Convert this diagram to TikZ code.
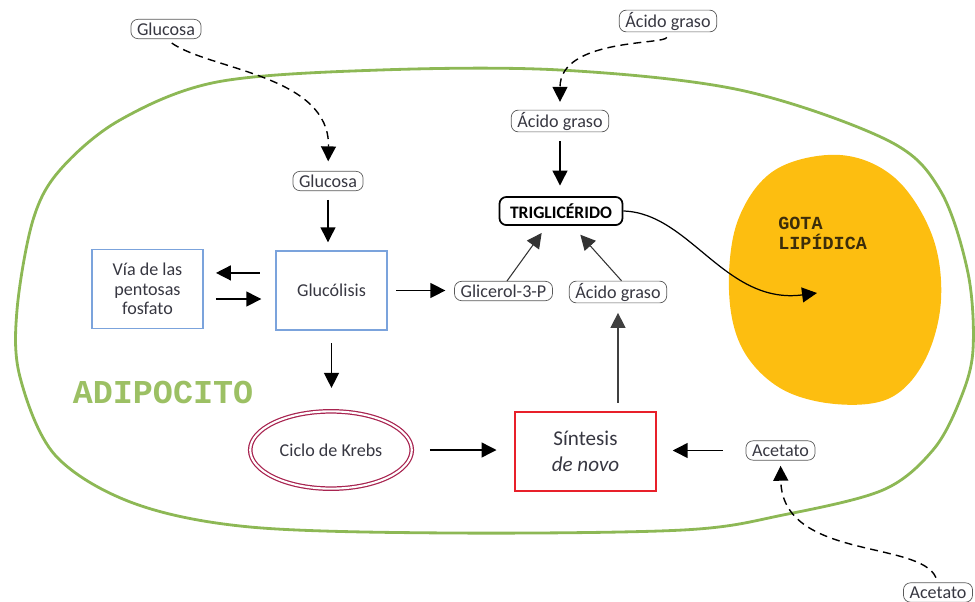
\documentclass[tikz,border=0pt]{standalone}
\usepackage{fontspec}
\setmainfont{Carlito}
\newfontfamily\courierfont{Liberation Mono}
\usetikzlibrary{arrows.meta,shapes.geometric,calc}
\definecolor{cellgreen}{RGB}{141,184,85}
\definecolor{adipogreen}{RGB}{156,192,100}
\definecolor{gotaorange}{RGB}{253,190,16}
\definecolor{gotatext}{RGB}{60,45,10}
\definecolor{pathblue}{RGB}{123,163,220}
\definecolor{krebsred}{RGB}{168,36,80}
\definecolor{sintred}{RGB}{232,32,42}
\definecolor{txtgray}{RGB}{55,55,65}
\begin{document}
\begin{tikzpicture}[x=0.02cm,y=-0.02cm,
    font=\fontsize{10.3}{11}\selectfont,
    arr/.style={line width=0.8pt,-{Triangle[length=8.5pt,width=8.5pt]}},
    dasharr/.style={arr,dash pattern=on 4.5pt off 3pt},
    molecule/.style={draw=black!65,rounded corners=4pt,inner xsep=3.5pt,inner ysep=1pt,minimum height=11pt,text=txtgray},
    pathway/.style={draw=pathblue,line width=0.9pt,minimum width=63pt,minimum height=45pt,align=center,text=txtgray}]
    \useasboundingbox (0,0) rectangle (975,602);
    % membrana y gota lipidica
    \draw[cellgreen,line width=1.6pt] plot[smooth cycle,tension=0.55] coordinates {(217,82) (380,70) (560,70) (740,90) (887,140) (940,190) (968,273) (973,350) (960,400) (933,450) (883,490) (783,515) (683,530) (450,533) (250,527) (133,503) (55,455) (20,377) (17,310) (33,220) (60,170) (120,120)};
    \fill[gotaorange] plot[smooth cycle,tension=0.6] coordinates {(840,155) (895,178) (932,235) (941,300) (925,360) (890,398) (835,404) (780,388) (742,348) (729,290) (738,220) (775,170)};
    \node[font=\courierfont\bfseries\fontsize{19}{19}\selectfont,text=adipogreen] (adipocito) at (163,392) {ADIPOCITO};
    \node[font=\courierfont\bfseries\fontsize{10.5}{11.3}\selectfont,align=left,anchor=north west,inner sep=0pt,text=gotatext] (gotalabel) at (778,217) {GOTA\\LIPÍDICA};
    % nodos
    \node[molecule] (glucext) at (166,29) {Glucosa};
    \node[molecule] (glucint) at (328,181) {Glucosa};
    \node[molecule] (acidoext) at (668,21) {Ácido graso};
    \node[molecule] (acidoint) at (560,121) {Ácido graso};
    \node[draw,line width=1pt,rounded corners=4pt,inner xsep=6pt,minimum height=16pt,font=\bfseries] (trig) at (561,211) {TRIGLICÉRIDO};
    \node[pathway] (pentosas) at (147.5,289) {Vía de las\\pentosas\\fosfato};
    \node[pathway] (glucolisis) at (331.5,290.5) {Glucólisis};
    \node[molecule] (glicerol) at (503.5,291) {Glicerol-3-P};
    \node[molecule] (acidotg) at (618,292) {Ácido graso};
    \node[ellipse,draw=krebsred,double,double distance=1.2pt,line width=0.7pt,minimum width=88pt,minimum height=44pt,text=txtgray] (krebs) at (331,450) {Ciclo de Krebs};
    \node[draw=sintred,line width=1.3pt,minimum width=80pt,minimum height=45pt,align=center,font=\fontsize{12}{15}\selectfont,text=txtgray] (sintesis) at (585.5,451.5) {Síntesis\\\textit{de novo}};
    \node[molecule] (acetint) at (780.5,450.5) {Acetato};
    \node[molecule] (acetext) at (938,592.5) {Acetato};
    % conectores
    \draw[dasharr,shorten <=4pt,shorten >=5.5pt] (glucext.south) .. controls (210,70) and (330,75) .. (glucint.north);
    \draw[dasharr,shorten <=3pt,shorten >=4.5pt] (acidoext.south) .. controls (665,45) and (560,38) .. (acidoint.north);
    \draw[dasharr,shorten <=3pt,shorten >=3pt] (acetext.north) .. controls (920,540) and (782,560) .. (acetint.south);
    \draw[arr,shorten <=5pt,shorten >=4.5pt] (glucint.south) -- (glucint.south |- glucolisis.north);
    \draw[arr,shorten <=5pt,shorten >=6pt] (acidoint.south) -- (acidoint.south |- trig.north);
    \draw[arr,shorten <=9pt,shorten >=7pt] ([yshift=10pt]glucolisis.west) -- ([yshift=10pt]glucolisis.west -| pentosas.east);
    \draw[arr,shorten <=7pt,shorten >=8pt] ([yshift=-5.7pt]pentosas.east) -- ([yshift=-5.7pt]pentosas.east -| glucolisis.west);
    \draw[arr,shorten <=5pt,shorten >=5pt] (glucolisis.east) -- (glucolisis.east -| glicerol.west);
    \draw[arr,shorten <=7pt,shorten >=13pt] (glucolisis.south) -- (glucolisis.south |- krebs.north);
    \draw[arr,shorten <=10pt,shorten >=10pt] (krebs.east) -- (krebs.east -| sintesis.west);
    \draw[arr,shorten <=13pt,shorten >=9pt] (acetint.west) -- (acetint.west -| sintesis.east);
    \draw[arr,black!75,shorten <=4.5pt,shorten >=5.5pt] (sintesis.north -| acidotg.south) -- (acidotg.south);
    \draw[line width=0.6pt,black!80,-{Triangle[length=8.5pt,width=8.5pt]}] ([xshift=2pt]glicerol.north) -- ([xshift=-11pt,yshift=-4pt]trig.south);
    \draw[line width=0.6pt,black!80,-{Triangle[length=8.5pt,width=8.5pt]}] ([xshift=2pt]acidotg.north) -- ([xshift=11pt,yshift=-5pt]trig.south);
    \coordinate (gotaend) at (817,293);
    \draw[arr,line width=0.7pt] (trig.east) .. controls (690,213) and (725,305) .. (gotaend);
\end{tikzpicture}
\end{document}
